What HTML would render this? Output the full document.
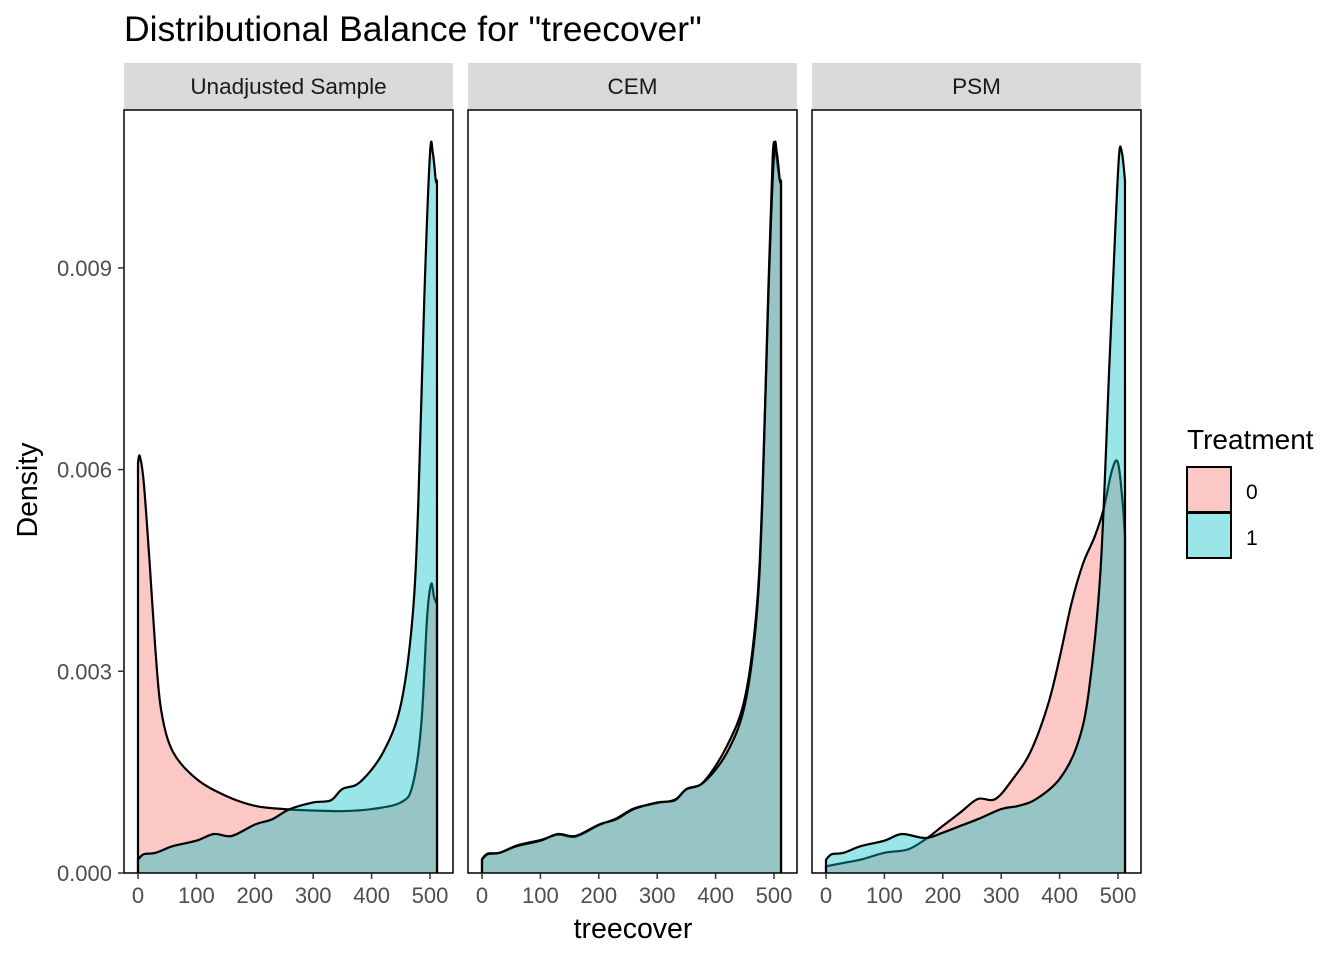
<!DOCTYPE html>
<html><head><meta charset="utf-8"><style>
body{margin:0;background:#fff;}
svg text{font-family:"Liberation Sans",Arial,sans-serif;}
</style></head><body>
<svg id="chart" width="1344" height="960" xmlns="http://www.w3.org/2000/svg">
<text x="124" y="41" font-size="35.5" fill="#000">Distributional Balance for "treecover"</text>
<g id="panels"></g>
<text x="633" y="938" font-size="28.5" text-anchor="middle">treecover</text>
<text transform="translate(37,490) rotate(-90)" font-size="28.5" text-anchor="middle">Density</text>
<g>
<text x="1187" y="449" font-size="28">Treatment</text>
<rect x="1187" y="467" width="44" height="45" fill="rgba(248,118,109,0.4)" stroke="#000" stroke-width="2"/>
<rect x="1187" y="513" width="44" height="45" fill="rgba(0,191,196,0.4)" stroke="#000" stroke-width="2"/>
<text x="1246" y="499" font-size="21">0</text>
<text x="1246" y="545" font-size="21">1</text>
</g>
</svg>
<script>
const panelNames = ["Unadjusted Sample","CEM","PSM"];
const xTicks = [0,100,200,300,400,500];
const yTicks = [0,0.003,0.006,0.009];
const yTickLabels = ["0.000","0.003","0.006","0.009"];
const treatedX = [0,10,30,60,100,130,160,200,230,260,300,330,350,380,420,450,470,480,490,500,505,510,512];
const treatedY = [0.0002,0.00028,0.0003,0.0004,0.00048,0.00058,0.00055,0.00072,0.0008,0.00095,0.00105,0.00108,0.00125,0.00135,0.0018,0.0025,0.0038,0.0055,0.0085,0.0107,0.0107,0.0103,0.0103];
const unadjControlX = [0,3,10,20,30,40,60,100,150,200,250,300,350,400,450,470,485,495,502,507,512];
const unadjControlY = [0.0061,0.0062,0.0058,0.0046,0.0033,0.0024,0.0018,0.0014,0.00115,0.001,0.00095,0.00093,0.00092,0.00095,0.00105,0.0013,0.0022,0.0038,0.0043,0.0041,0.004];
const cemControlX = [0,10,30,60,100,130,160,200,230,260,300,330,350,380,420,450,470,480,490,498,503,510,512];
const cemControlY = [0.00021,0.00029,0.0003,0.00041,0.00049,0.00057,0.00054,0.00071,0.00081,0.00096,0.00104,0.00109,0.00124,0.00136,0.0019,0.0026,0.0039,0.0056,0.0086,0.0107,0.0107,0.0103,0.0103];
const psmControlX = [0,30,60,100,140,170,200,230,260,290,320,350,380,400,420,440,460,475,490,500,508,512];
const psmControlY = [0.0001,0.00015,0.0002,0.0003,0.00035,0.0005,0.0007,0.0009,0.0011,0.0011,0.0014,0.0018,0.0025,0.0032,0.004,0.0046,0.005,0.0054,0.006,0.0061,0.0055,0.005];
const psmTreatedX = [0,10,30,60,100,130,170,200,230,260,300,330,360,400,430,450,470,485,495,502,507,512];
const psmTreatedY = [0.0002,0.00028,0.0003,0.0004,0.00048,0.00058,0.00052,0.0006,0.0007,0.0008,0.00095,0.001,0.0011,0.0014,0.0019,0.0027,0.0045,0.0075,0.0095,0.0107,0.0107,0.0103];

const series = [
 [[unadjControlX,unadjControlY],[treatedX,treatedY]],
 [[cemControlX,cemControlY],[treatedX,treatedY]],
 [[psmControlX,psmControlY],[psmTreatedX,psmTreatedY]]
];
const panelLeft=[124,468,812], panelW=329, plotTop=110, plotBottom=873;
const NS="http://www.w3.org/2000/svg";
const g=document.getElementById("panels");
function yS(v){return plotBottom - v/0.003*201.7;}
function mk(tag,attrs,parent){const e=document.createElementNS(NS,tag);for(const k in attrs)e.setAttribute(k,attrs[k]);parent.appendChild(e);return e;}
function smooth(pts){
  let d="";
  for(let i=0;i<pts.length-1;i++){
    const p0=pts[Math.max(0,i-1)],p1=pts[i],p2=pts[i+1],p3=pts[Math.min(pts.length-1,i+2)];
    const c1x=p1[0]+(p2[0]-p0[0])/6, c1y=p1[1]+(p2[1]-p0[1])/6;
    const c2x=p2[0]-(p3[0]-p1[0])/6, c2y=p2[1]-(p3[1]-p1[1])/6;
    d+=` C${c1x.toFixed(1)},${c1y.toFixed(1)} ${c2x.toFixed(1)},${c2y.toFixed(1)} ${p2[0].toFixed(1)},${p2[1].toFixed(1)}`;
  }
  return d;
}
const fills=["rgba(248,118,109,0.4)","rgba(0,191,196,0.4)"];
panelNames.forEach((name,p)=>{
  const L=panelLeft[p];
  const xS=v=>L+14+v*0.584;
  const strip=mk("rect",{x:L,y:63,width:panelW,height:47,fill:"#d9d9d9"},g);
  
  
  const st=mk("text",{x:L+panelW/2,y:94,"font-size":"22.5","text-anchor":"middle",fill:"#1a1a1a"},g);
  st.textContent=name;
  
  
  series[p].forEach((s,i)=>{
    const xs=s[0], ys=s[1];
    const pts=xs.map((x,k)=>[xS(x),yS(ys[k])]);
    let d="M"+pts[0][0]+","+plotBottom+" L"+pts[0][0].toFixed(1)+","+pts[0][1].toFixed(1);
    d+=smooth(pts);
    d+=" L"+pts[pts.length-1][0]+","+plotBottom;
    const path=mk("path",{d:d,fill:fills[i],stroke:"#000","stroke-width":"2.2","stroke-linejoin":"round"},g);
    
    
  });
  const fr=mk("rect",{x:L,y:plotTop,width:panelW,height:plotBottom-plotTop,fill:"none",stroke:"#000","stroke-width":"1.5"},g);
  
  
  xTicks.forEach(t=>{
    mk("line",{x1:xS(t),x2:xS(t),y1:plotBottom,y2:plotBottom+6,stroke:"#333","stroke-width":"1.5"},g);
    const tx=mk("text",{x:xS(t),y:903,"font-size":"22","text-anchor":"middle",fill:"#4d4d4d"},g);
    tx.textContent=t;
    
    
  });
});
yTicks.forEach((t,i)=>{
  mk("line",{x1:118,x2:124,y1:yS(t),y2:yS(t),stroke:"#333","stroke-width":"1.5"},g);
  const tx=mk("text",{x:112,y:yS(t)+8,"font-size":"22","text-anchor":"end",fill:"#4d4d4d"},g);
  tx.textContent=yTickLabels[i];
  
  
});
</script>
</body></html>
